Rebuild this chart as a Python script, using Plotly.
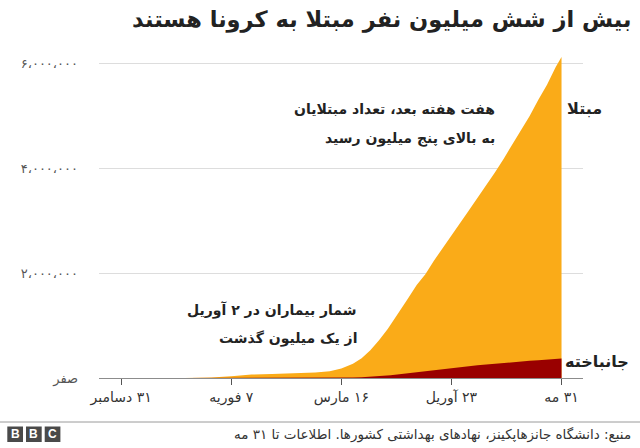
import plotly.graph_objects as go

# ---- data ----
dates = ["2020-01-22", "2020-01-31", "2020-02-07", "2020-02-14", "2020-02-21", "2020-02-29",
         "2020-03-07", "2020-03-12", "2020-03-16", "2020-03-20", "2020-03-23", "2020-03-26",
         "2020-03-29", "2020-04-01", "2020-04-02", "2020-04-05", "2020-04-08", "2020-04-11",
         "2020-04-14", "2020-04-17", "2020-04-20", "2020-04-23", "2020-04-26", "2020-04-29",
         "2020-05-02", "2020-05-05", "2020-05-08", "2020-05-11", "2020-05-14", "2020-05-17",
         "2020-05-20", "2020-05-23", "2020-05-26", "2020-05-29", "2020-05-31"]
cases = [555, 9927, 34391, 66885, 76843, 86011,
         105821, 128343, 181546, 272167, 378287, 529591,
         720117, 932605, 1013157, 1272115, 1518126, 1771514,
         1976191, 2240191, 2472259, 2708403, 2954222, 3193886,
         3427343, 3662691, 3917366, 4177504, 4442163, 4713620,
         4996472, 5307298, 5589626, 5931312, 6120000]
deaths = [17, 213, 722, 1400, 2250, 2941,
          3500, 4700, 7126, 11400, 16505, 24000,
          33900, 47200, 52900, 69400, 88400, 108500,
          126000, 157800, 170000, 191000, 206000, 227000,
          242000, 256000, 273000, 284000, 300000, 313000,
          327000, 340000, 349000, 364000, 370000]

x_tickvals = ["2019-12-31", "2020-02-07", "2020-03-16", "2020-04-23", "2020-05-31"]
x_ticktext = ["\u200f۳۱ دسامبر", "\u200f۷ فوریه", "\u200f۱۶ مارس", "\u200f۲۳ آوریل", "\u200f۳۱ مه"]
y_tickvals = [0, 2000000, 4000000, 6000000]
y_ticktext = ["صفر", "۲،۰۰۰،۰۰۰", "۴،۰۰۰،۰۰۰", "۶،۰۰۰،۰۰۰"]

title = "بیش از شش میلیون نفر مبتلا به کرونا هستند"
source = "منبع: دانشگاه جانزهاپکینز، نهادهای بهداشتی کشورها. اطلاعات تا ۳۱ مه"
label_cases = "مبتلا"
label_deaths = "جانباخته"
note1 = ["هفت هفته بعد، تعداد مبتلایان", "به بالای پنج میلیون رسید"]
note2 = ["شمار بیماران در ۲ آوریل", "از یک میلیون گذشت"]

ORANGE = "#FAAB18"
RED = "#990000"
FONT = "DejaVu Sans"

# ---- layout geometry (pixels) ----
W, H = 640, 448
L, R, T, B = 99, 583, 50, 378


def px(xp):
    return (xp - L) / (R - L)


def py(yp):
    return (B - yp) / (B - T)


fig = go.Figure()
fig.add_trace(go.Scatter(x=dates, y=cases, mode="lines", fill="tozeroy",
                         line=dict(width=0, color=ORANGE), fillcolor=ORANGE,
                         hoverinfo="skip", showlegend=False))
fig.add_trace(go.Scatter(x=dates, y=deaths, mode="lines", fill="tozeroy",
                         line=dict(width=0, color=RED), fillcolor=RED,
                         hoverinfo="skip", showlegend=False))

ann = []
ann.append(dict(text="<b>%s</b>" % title, xref="paper", yref="paper", x=px(633), y=py(20),
                xanchor="right", yanchor="middle", showarrow=False,
                font=dict(family=FONT, size=22.5, color="#222222")))
ann.append(dict(text="<b>%s</b>" % label_cases, xref="paper", yref="paper", x=px(565), y=py(108),
                xanchor="left", yanchor="middle", showarrow=False,
                font=dict(family=FONT, size=16, color="#222222")))
ann.append(dict(text="<b>%s</b>" % label_deaths, xref="paper", yref="paper", x=px(563), y=py(361),
                xanchor="left", yanchor="middle", showarrow=False,
                font=dict(family=FONT, size=16, color="#222222")))
for i, t in enumerate(note1):
    ann.append(dict(text="<b>%s</b>" % t, xref="paper", yref="paper", x=px(497), y=py(109 + 29 * i),
                    xanchor="right", yanchor="middle", showarrow=False,
                    font=dict(family=FONT, size=14, color="#222222")))
for i, t in enumerate(note2):
    ann.append(dict(text="<b>%s</b>" % t, xref="paper", yref="paper", x=px(359), y=py(310 + 28 * i),
                    xanchor="right", yanchor="middle", showarrow=False,
                    font=dict(family=FONT, size=14, color="#222222")))
ann.append(dict(text=source, xref="paper", yref="paper", x=px(633), y=py(434),
                xanchor="right", yanchor="middle", showarrow=False,
                font=dict(family=FONT, size=13.5, color="#333333")))

shapes = [dict(type="line", xref="paper", yref="paper", x0=px(0), x1=px(640), y0=py(422), y1=py(422),
               line=dict(color="#9a9a9a", width=1))]
logo_x = [7.3, 26, 44.7]
for i, lx in enumerate(logo_x):
    shapes.append(dict(type="rect", xref="paper", yref="paper", x0=px(lx), x1=px(lx + 15.7),
                       y0=py(442), y1=py(426.5), fillcolor="#4a4a4a", line=dict(width=0)))
    ann.append(dict(text="<b>%s</b>" % "BBC"[i], xref="paper", yref="paper", x=px(lx + 7.85), y=py(434.3),
                    xanchor="center", yanchor="middle", showarrow=False,
                    font=dict(family="Liberation Sans", size=12, color="white")))

fig.update_layout(
    width=W, height=H,
    margin=dict(l=L, r=W - R, t=T, b=H - B, pad=0),
    paper_bgcolor="white", plot_bgcolor="white",
    annotations=ann, shapes=shapes,
    showlegend=False,
    xaxis=dict(type="date", range=["2019-12-23 08:00", "2020-06-07 10:00"],
               tickmode="array", tickvals=x_tickvals, ticktext=x_ticktext,
               showgrid=False, zeroline=False, showline=True, linecolor="#8c8c8c", linewidth=1,
               ticks="outside", ticklen=6, tickcolor="#555555", tickwidth=1,
               tickfont=dict(family=FONT, size=14, color="#333333"), automargin=False,
               fixedrange=True),
    yaxis=dict(range=[0, 6254000], tickmode="array", tickvals=y_tickvals, ticktext=y_ticktext,
               showgrid=True, gridcolor="#dddddd", gridwidth=1, zeroline=False, showline=False,
               ticks="", ticklabelstandoff=20,
               tickfont=dict(family=FONT, size=13, color="#555555"), automargin=False,
               fixedrange=True),
)

fig.write_html("out.html")
